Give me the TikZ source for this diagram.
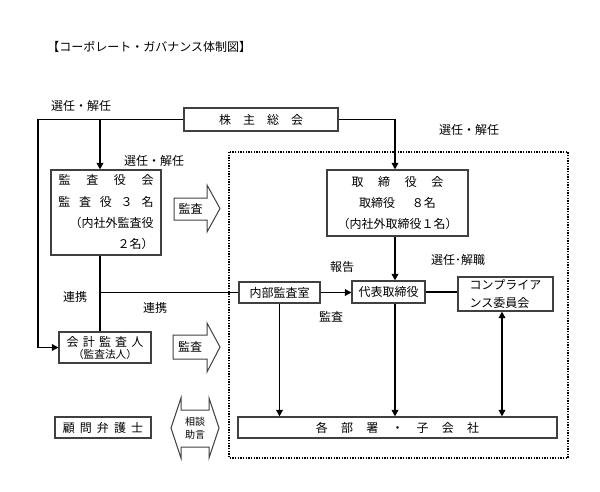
\documentclass[tikz,border=0pt]{standalone}
\usepackage{fontspec}
\setmainfont{Noto Sans CJK JP}
\usetikzlibrary{arrows.meta}

\begin{document}
\begin{tikzpicture}[x=0.75pt,y=-0.75pt,
        box/.style = {draw=black!75, line width=0.8pt, inner sep=0pt, font=\fontsize{9}{11}\selectfont},
        lbl/.style = {inner sep=0pt, font=\fontsize{9}{11}\selectfont},
        con/.style = {line width=1.2pt},
        arr/.style = {con, -{Triangle[width=5pt,length=5pt]}},
        darr/.style = {con, {Triangle[width=5pt,length=5pt]}-{Triangle[width=5pt,length=5pt]}},
        big/.style = {draw=black!75, line width=0.75pt}]
        \useasboundingbox (0,0) rectangle (600,492);

        \node[lbl, anchor=west] (t) at (47,47) {【コーポレート・ガバナンス体制図】};

        \draw[densely dotted, line width=1pt] (229,152) rectangle (568,458);

        \node[box, minimum width=115.5pt, minimum height=17.25pt] (0) at (261,119.5) {株\quad 主\quad 総\quad 会};
        \node[box, minimum width=82.5pt, minimum height=63.75pt, align=right, font=\fontsize{9}{16}\selectfont] (1) at (106,212.5)
            {監\hspace{1.3em}査\hspace{1.3em}役\hspace{1.3em}会\\監\hspace{0.73em}査\hspace{0.73em}役\hspace{0.73em}３\hspace{0.73em}名\\（内社外監査役\\２名）};
        \node[box, minimum width=105.75pt, minimum height=49.5pt, align=center, font=\fontsize{9}{16}\selectfont] (2) at (397.5,203)
            {取\hspace{1.22em}締\hspace{1.22em}役\hspace{1.22em}会\\取締役\hspace{1.4em}８名\\（内社外取締役１名）};
        \node[box, minimum width=60.75pt, minimum height=15.75pt] (3) at (279.5,292.5) {内部監査室};
        \node[box, minimum width=54.75pt, minimum height=16.5pt] (4) at (388.5,292) {代表取締役};
        \node[box, minimum width=71.25pt, minimum height=25.5pt, align=left, font=\fontsize{9}{13.5}\selectfont] (5) at (505.5,294)
            {コンプライア\\ンス委員会};
        \node[box, minimum width=69pt, minimum height=23.25pt, align=center] (6) at (105,347.5)
            {会\hspace{0.35em}計\hspace{0.35em}監\hspace{0.35em}査\hspace{0.35em}人\\[-2pt]{\fontsize{8}{10}\selectfont （監査法人）}};
        \node[box, minimum width=72pt, minimum height=15.75pt] (7) at (103,427.5)
            {顧\hspace{0.42em}問\hspace{0.42em}弁\hspace{0.42em}護\hspace{0.42em}士};
        \node[box, minimum width=239.25pt, minimum height=15.75pt] (8) at (397.5,427.5)
            {各\hspace{1.1em}部\hspace{1.1em}署\hspace{1.1em}・\hspace{1.1em}子\hspace{1.1em}会\hspace{1.1em}社};

        \draw[big] (174,198) -- (207,198) -- (207,185) -- (220,208.5) -- (207,232) -- (207,220) -- (174,220) -- cycle;
        \node[lbl] (9) at (190.5,209) {監査};
        \draw[big] (173,335) -- (207,335) -- (207,323) -- (220,347) -- (207,372) -- (207,359) -- (173,359) -- cycle;
        \node[lbl] (10) at (190,347) {監査};
        \draw[big] (171,428) -- (181,398) -- (181,410) -- (209,410) -- (209,398) -- (219,428)
            -- (209,458) -- (209,447) -- (181,447) -- (181,458) -- cycle;
        \node[lbl, align=center, font=\fontsize{7.5}{10}\selectfont] (11) at (195,428) {相談\\助言};

        \coordinate (l) at (38,0);
        \coordinate (m) at (100,0);
        \coordinate (r) at (395,0);
        \coordinate (k) at (502,0);

        \draw[arr] (0.west) -- (0.west -| l) |- (6.west);
        \draw[arr] (0.west -| m) -- (1.north -| m);
        \draw[con] (1.south -| m) -- (6.north -| m);
        \draw[con] (3.west -| m) -- (3.west);
        \draw[arr] (0.east) -| (2.north -| r);
        \draw[arr] (2.south -| r) -- (4.north -| r);
        \draw[arr] (3.east) -- (3.east -| 4.west);
        \draw[con] (4.east) -- (4.east -| 5.west);
        \draw[arr] (3.south) -- (3.south |- 8.north);
        \draw[arr] (4.south -| r) -- (8.north -| r);
        \draw[darr] (5.south -| k) -- (8.north -| k);

        \node[lbl] (12) at (81,106) {選任・解任};
        \node[lbl] (13) at (154,161) {選任・解任};
        \node[lbl] (14) at (469,130) {選任・解任};
        \node[lbl] (15) at (458,260) {選任･解職};
        \node[lbl] (16) at (342,267) {報告};
        \node[lbl] (17) at (331,317) {監査};
        \node[lbl] (18) at (75,297) {連携};
        \node[lbl] (19) at (155,308) {連携};
\end{tikzpicture}
\end{document}
